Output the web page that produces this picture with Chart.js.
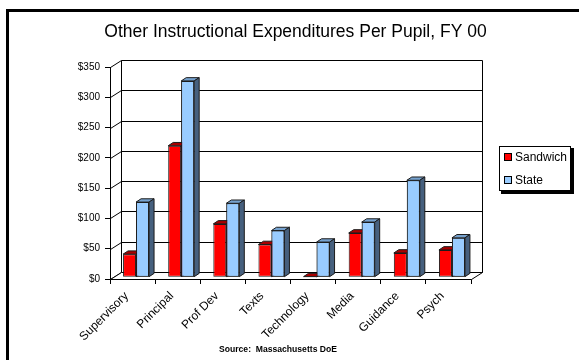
<!DOCTYPE html>
<html>
<head>
<meta charset="utf-8">
<script src="https://cdn.jsdelivr.net/npm/chart.js@4.4.0/dist/chart.umd.min.js"></script>
<style>
  html, body { margin: 0; padding: 0; background: #fff; }
</style>
</head>
<body>
<canvas id="expChart" width="579" height="360"></canvas>
<script>
// Per pupil spending, FY 00
var categories = ['Supervisory', 'Principal', 'Prof Dev', 'Texts', 'Technology', 'Media', 'Guidance', 'Psych'];
var sandwichValues = [38, 217, 88, 54, 1, 73, 40, 45];
var stateValues = [124, 324, 122, 77, 58, 91, 160, 65];
var yTicks = [0, 50, 100, 150, 200, 250, 300, 350];

var FONT = '"Liberation Sans", Arial, sans-serif';

// fake 3d: wall depth, bar offset inside the box, bar depth
var WALL_DX = 11, WALL_DY = -7;
var BAR_DX = 3.5, BAR_DY = -1.8;
var DEPTH_DX = 5, DEPTH_DY = -3.3;

var faceColors = [
    { top: '#a80000', side: '#7a0000' },
    { top: '#76a2cf', side: '#46607e' }
];

function line(ctx, x1, y1, x2, y2) {
    ctx.beginPath();
    ctx.moveTo(x1, y1);
    ctx.lineTo(x2, y2);
    ctx.stroke();
}

function drawFaces(ctx, meta, colors) {
    ctx.save();
    ctx.lineWidth = 1;
    ctx.strokeStyle = '#1c1c1c';
    ctx.lineJoin = 'round';
    meta.data.forEach(function (bar) {
        var p = bar.getProps(['x', 'y', 'base', 'width'], true);
        var l = p.x - p.width / 2, r = p.x + p.width / 2;
        var t = Math.min(p.y, p.base), b = Math.max(p.y, p.base);

        ctx.fillStyle = colors.top;
        ctx.beginPath();
        ctx.moveTo(l, t);
        ctx.lineTo(r, t);
        ctx.lineTo(r + DEPTH_DX, t + DEPTH_DY);
        ctx.lineTo(l + DEPTH_DX, t + DEPTH_DY);
        ctx.closePath();
        ctx.fill();
        ctx.stroke();

        ctx.fillStyle = colors.side;
        ctx.beginPath();
        ctx.moveTo(r, t);
        ctx.lineTo(r + DEPTH_DX, t + DEPTH_DY);
        ctx.lineTo(r + DEPTH_DX, b + DEPTH_DY);
        ctx.lineTo(r, b);
        ctx.closePath();
        ctx.fill();
        ctx.stroke();
    });
    ctx.restore();
}

var box3d = {
    id: 'box3d',
    beforeDraw: function (chart) {
        var ctx = chart.ctx;
        ctx.save();
        ctx.fillStyle = '#fff';
        ctx.fillRect(0, 0, chart.width, chart.height);
        ctx.strokeStyle = '#000';
        ctx.lineWidth = 3;
        ctx.strokeRect(7.5, 10.5, 620, 400);
        ctx.restore();
    },
    beforeDatasetsDraw: function (chart) {
        var ctx = chart.ctx;
        var a = chart.chartArea;
        var yScale = chart.scales.y;
        var L = Math.round(a.left) + 0.5, R = Math.round(a.right) + 0.5;
        var B = Math.round(a.bottom) + 0.5, T = Math.round(a.top) + 0.5;

        ctx.save();
        ctx.strokeStyle = '#000';
        ctx.lineWidth = 1;
        ctx.fillStyle = '#fff';

        // back wall
        ctx.fillRect(L + WALL_DX, T + WALL_DY, R - L, B - T);
        // gridlines on left wall and back wall
        yTicks.forEach(function (v) {
            var py = Math.round(yScale.getPixelForValue(v)) + 0.5;
            line(ctx, L, py, L + WALL_DX, py + WALL_DY);
            line(ctx, L + WALL_DX, py + WALL_DY, R + WALL_DX, py + WALL_DY);
        });
        line(ctx, L + WALL_DX, T + WALL_DY, L + WALL_DX, B + WALL_DY);
        line(ctx, R + WALL_DX, T + WALL_DY, R + WALL_DX, B + WALL_DY);
        line(ctx, L, T, L, B);

        // floor
        ctx.beginPath();
        ctx.moveTo(L, B);
        ctx.lineTo(R, B);
        ctx.lineTo(R + WALL_DX, B + WALL_DY);
        ctx.lineTo(L + WALL_DX, B + WALL_DY);
        ctx.closePath();
        ctx.fill();
        ctx.stroke();
        ctx.restore();

        ctx.save();
        ctx.translate(BAR_DX, BAR_DY);
    },
    afterDatasetDraw: function (chart, args) {
        // State is drawn first, Sandwich last; put the State bars back on top
        // so they hide the red tops and sides behind them
        if (args.index !== 0) return;
        drawFaces(chart.ctx, args.meta, faceColors[0]);
        var stateMeta = chart.getDatasetMeta(1);
        stateMeta.data.forEach(function (bar) { bar.draw(chart.ctx); });
        drawFaces(chart.ctx, stateMeta, faceColors[1]);
    },
    afterDatasetsDraw: function (chart) {
        chart.ctx.restore();
    },
    afterDraw: function (chart) {
        var ctx = chart.ctx;
        ctx.save();

        // legend box with drop shadow
        ctx.fillStyle = '#000';
        ctx.fillRect(501, 148, 73, 46);
        ctx.fillStyle = '#fff';
        ctx.fillRect(499, 146, 72, 45);
        ctx.strokeStyle = '#000';
        ctx.lineWidth = 1;
        ctx.strokeRect(499.5, 146.5, 71, 44);

        var items = [
            { text: chart.data.datasets[0].label, color: chart.data.datasets[0].backgroundColor, y: 157.5 },
            { text: chart.data.datasets[1].label, color: chart.data.datasets[1].backgroundColor, y: 180.5 }
        ];
        ctx.font = '12px ' + FONT;
        ctx.textBaseline = 'middle';
        items.forEach(function (it) {
            ctx.fillStyle = it.color;
            ctx.fillRect(504.5, it.y - 4, 7, 7);
            ctx.strokeRect(504.5, it.y - 4, 7, 7);
            ctx.fillStyle = '#000';
            ctx.fillText(it.text, 515, it.y);
        });

        // source line
        ctx.font = 'bold 8.6px ' + FONT;
        ctx.textAlign = 'center';
        ctx.fillText('Source:  Massachusetts DoE', 278, 349.5);
        ctx.restore();
    }
};

new Chart(document.getElementById('expChart'), {
    type: 'bar',
    data: {
        labels: categories,
        datasets: [{
            label: 'Sandwich',
            data: sandwichValues,
            backgroundColor: '#ff0000',
            borderColor: '#1c1c1c',
            borderWidth: 1,
            borderSkipped: false,
            clip: false
        }, {
            label: 'State',
            data: stateValues,
            backgroundColor: '#99ccff',
            borderColor: '#1c1c1c',
            borderWidth: 1,
            borderSkipped: false,
            clip: false
        }]
    },
    options: {
        responsive: false,
        animation: false,
        categoryPercentage: 0.576,
        barPercentage: 1.0,
        layout: {
            padding: { left: 12, right: 0, top: 0, bottom: 0 }
        },
        plugins: {
            legend: { display: false },
            tooltip: { enabled: false },
            title: {
                display: true,
                text: 'Other Instructional Expenditures Per Pupil, FY 00',
                color: '#000',
                font: { family: FONT, size: 17.5, weight: 'normal' },
                padding: { top: 22, bottom: 24 }
            }
        },
        scales: {
            x: {
                grid: { drawOnChartArea: false, tickLength: 5, color: '#000', offset: true },
                border: { color: '#000' },
                ticks: {
                    color: '#000',
                    font: { family: FONT, size: 12 },
                    maxRotation: 45,
                    minRotation: 45,
                    padding: 5,
                    labelOffset: -6,
                    autoSkip: false
                },
                afterFit: function (s) { s.height = 81; }
            },
            y: {
                min: 0,
                max: 350,
                grid: { drawOnChartArea: false, tickLength: 5, color: '#000' },
                border: { color: '#000' },
                ticks: {
                    color: '#000',
                    font: { family: FONT, size: 10 },
                    padding: 5,
                    callback: function (v) { return '$' + v; }
                },
                afterBuildTicks: function (s) {
                    s.ticks = yTicks.map(function (v) { return { value: v }; });
                },
                afterFit: function (s) { s.width = 98; }
            },
            // empty right axis keeps room for the box depth and legend
            yRight: {
                position: 'right',
                grid: { display: false },
                border: { display: false },
                ticks: { display: false },
                afterFit: function (s) { s.width = 108; }
            }
        }
    },
    plugins: [box3d]
});
</script>
</body>
</html>
